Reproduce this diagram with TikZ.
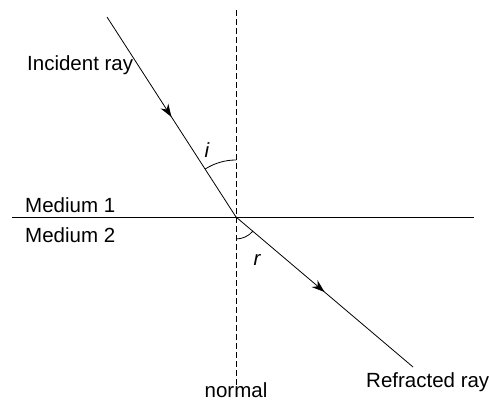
\documentclass[tikz,border=0pt]{standalone}
\usepackage{fontspec}
\setmainfont{Liberation Sans}
\usetikzlibrary{decorations.markings,arrows.meta}
\begin{document}
\begin{tikzpicture}[x=1pt,y=1pt,
  lbl/.style={inner sep=0pt,font=\fontsize{20.5}{22}\selectfont},
  ray/.style={line width=0.8pt,postaction={decorate},decoration={markings,mark=at position 0.5 with {\arrow{Stealth[length=13pt,width=9pt]}}}},
  thin line/.style={line width=0.8pt}]
\useasboundingbox (0,0) rectangle (489,403);
\coordinate (O) at (236,186);
\coordinate (A) at (107,386);
\coordinate (B) at (413,36);
\coordinate (N1) at (236,393);
\coordinate (N2) at (236,18);
\coordinate (H1) at (12,186);
\coordinate (H2) at (474,186);
\draw[thin line,dash pattern=on 6pt off 3pt] (N1) -- (N2);
\draw[thin line] (H1) -- (H2);
\draw[ray] (A) -- (O);
\draw[ray] (O) -- (B);
\draw[thin line] ([shift={(90:57)}]O) arc[start angle=90,end angle=122.8,radius=57];
\draw[thin line] ([shift={(-90:22)}]O) arc[start angle=-90,end angle=-40.3,radius=22];
\node[lbl,anchor=base west] (inc) at (27,332) {Incident ray};
\node[lbl,anchor=base west] (m1) at (25,190) {Medium 1};
\node[lbl,anchor=base west] (m2) at (25,160) {Medium 2};
\node[lbl,anchor=base] (nor) at (236,5) {normal};
\node[lbl,anchor=base west] (ref) at (366,15) {Refracted ray};
\node[lbl] (i) at (207,253) {\itshape i};
\node[lbl] (r) at (257,143) {\itshape r};
\end{tikzpicture}
\end{document}
